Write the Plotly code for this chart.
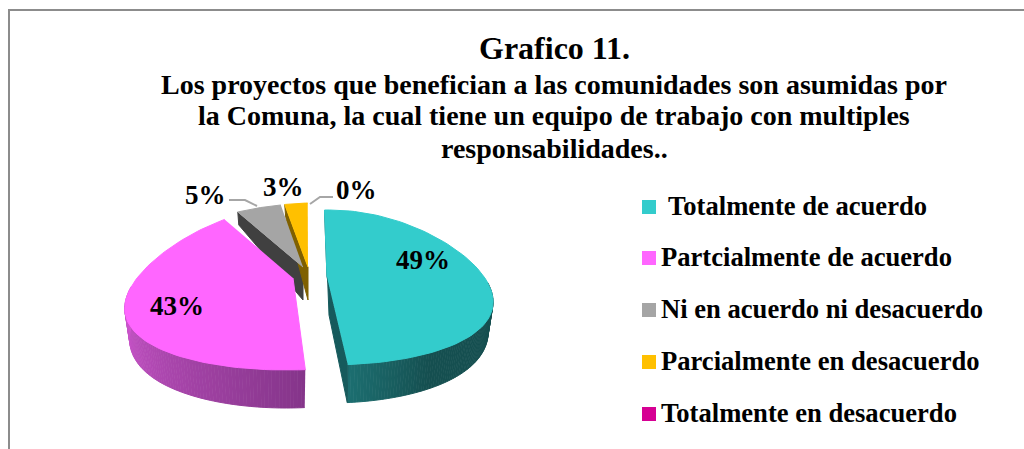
import numpy as np
import plotly.graph_objects as go

categories = [" Totalmente de acuerdo", "Partcialmente de acuerdo", "Ni en acuerdo ni desacuerdo",
              "Parcialmente en desacuerdo", "Totalmente en desacuerdo"]
values = [49, 43, 5, 3, 0]
colors = ["#33CCCC", "#FF66FF", "#A5A5A5", "#FFC000", "#D60093"]
title_lines = ["Los proyectos que benefician a las comunidades son asumidas por",
               "la Comuna, la cual tiene un equipo de trabajo con multiples",
               "responsabilidades.."]

START_ANGLE = -2
SERIF = "Liberation Serif"

# geometry of each exploded slice in canvas pixels: ellipse centre, radii, tip, perspective
slice_geom = [
    dict(cx=329, cy=287.5, rx=161, ry=77.5, tip=(327, 277), k=0.2),
    dict(cx=286, cy=289, rx=156, ry=81, tip=(293, 278), k=0.27),
    dict(cx=312, cy=263.5, rx=175, ry=60, tip=(303, 267), k=0.2),
    dict(cx=312, cy=263, rx=153, ry=60, tip=(308, 267), k=0.2),
]
label_pos = [(423, 260), (177, 306), (205, 195), (283, 187), (356, 190)]
legend_y = [207, 258, 310, 362, 414]


def top_edge(g, theta):
    t = np.radians(theta)
    x = g["cx"] + g["rx"] * np.sin(t) * (1 - g["k"] * np.cos(t))
    y = g["cy"] - g["ry"] * np.cos(t)
    return x, y


def bottom_edge(g, theta):
    x, y = top_edge(g, theta)
    t = np.radians(theta)
    return g["cx"] + (x - g["cx"]) * 0.97, y + 28 - 10 * np.cos(t)


def polygon(fig, xs, ys, color):
    fig.add_trace(go.Scatter(x=xs, y=ys, mode="lines", fill="toself", fillcolor=color,
                             line=dict(color=color, width=1), hoverinfo="skip", showlegend=False))


def mix(c1, c2, f):
    a = [int(c1[i:i + 2], 16) for i in (1, 3, 5)]
    b = [int(c2[i:i + 2], 16) for i in (1, 3, 5)]
    return "rgb(%d,%d,%d)" % tuple(round(p + (q - p) * f) for p, q in zip(a, b))


def outer_wall(fig, g, a0, a1, c0, c1, hold=1.0, strips=90):
    # outer rim split in thin strips to fake the gradient
    edges = np.linspace(a0, a1, strips + 1)
    for i in range(strips):
        th = np.linspace(edges[i], edges[i + 1], 3)
        tx, ty = top_edge(g, th)
        bx, by = bottom_edge(g, th)
        f = min(1.0, i / (strips - 1) / hold)
        polygon(fig, list(tx) + list(bx[::-1]), list(ty) + list(by[::-1]), mix(c0, c1, f))


fig = go.Figure()

cum = np.cumsum([0] + values) / sum(values) * 360 + START_ANGLE
spans = list(zip(cum[:-1], cum[1:]))

# side walls first so the top faces sit over them
g = slice_geom[0]
a0, a1 = spans[0]
outer_wall(fig, g, a1, 86, "#1C6E70", "#154F50", hold=0.3)
tx0, ty0 = top_edge(g, a0)
tx1, ty1 = top_edge(g, a1)
bx1, by1 = bottom_edge(g, a1)
polygon(fig, [tx0, g["tip"][0], tx1, bx1, g["tip"][0] + 2, tx0 + 1],
        [ty0, g["tip"][1], ty1, by1, g["tip"][1] + 38, ty0 + 15], "#165A5C")

g = slice_geom[1]
a0, a1 = spans[1]
outer_wall(fig, g, a0, 272, "#85358A", "#D65AD6")

# gray and yellow only show their inner wall
for i, wall in ((2, "#404040"), (3, "#7F6000")):
    g = slice_geom[i]
    a0, a1 = spans[i]
    tx0, ty0 = top_edge(g, a0)
    polygon(fig, [tx0, tx0 + 1, g["tip"][0], g["tip"][0]],
            [ty0, ty0 + 13, g["tip"][1] + 33, g["tip"][1]], wall)

# top faces
for i, g in enumerate(slice_geom):
    a0, a1 = spans[i]
    th = np.linspace(a0, a1, 80)
    ax, ay = top_edge(g, th)
    polygon(fig, [g["tip"][0]] + list(ax), [g["tip"][1]] + list(ay), colors[i])

# legend swatches
fig.add_trace(go.Scatter(x=[649] * len(categories), y=legend_y, mode="markers",
                         marker=dict(symbol="square", size=14, color=colors, line=dict(width=0)),
                         hoverinfo="skip", showlegend=False))

annotations = []


def add_text(x, y, text, size, xanchor="center"):
    annotations.append(dict(x=x, y=y, xref="x", yref="y", text=text, showarrow=False, xanchor=xanchor,
                            yanchor="middle", font=dict(family=SERIF, size=size, color="#000000")))


add_text(554, 48, "<b>Grafico 11.</b>", 32)
for y, line in zip([84, 115, 148], title_lines):
    add_text(554, y, "<b>%s</b>" % line, 28)
for (x, y), v in zip(label_pos, values):
    add_text(x, y, "<b>%d%%</b>" % v, 27)
for i, (y, name) in enumerate(zip(legend_y, categories)):
    add_text(666 if i == 0 else 659, y - 1, "<b>%s</b>" % name.strip(), 26.6, "left")

leaders = [
    "M 229 200 L 245 200 L 257 206",
    "M 310 204 L 320 197 L 333 197",
]
shapes = [dict(type="path", path=p, line=dict(color="#A6A6A6", width=2), layer="above") for p in leaders]
# slide frame
shapes.append(dict(type="path", path="M 9 449 L 9 10 L 1024 10",
                   line=dict(color="#8C8C8C", width=2), layer="below"))

fig.update_layout(
    width=1024, height=449, margin=dict(l=0, r=0, t=0, b=0),
    paper_bgcolor="#FFFFFF", plot_bgcolor="#FFFFFF", showlegend=False,
    xaxis=dict(range=[0, 1024], visible=False, fixedrange=True),
    yaxis=dict(range=[449, 0], visible=False, fixedrange=True),
    annotations=annotations, shapes=shapes,
)

# default page margin would push the figure 8px off
fig.write_html("out.html", config=dict(displayModeBar=False),
               post_script="document.body.style.margin='0';document.body.style.overflow='hidden';")
